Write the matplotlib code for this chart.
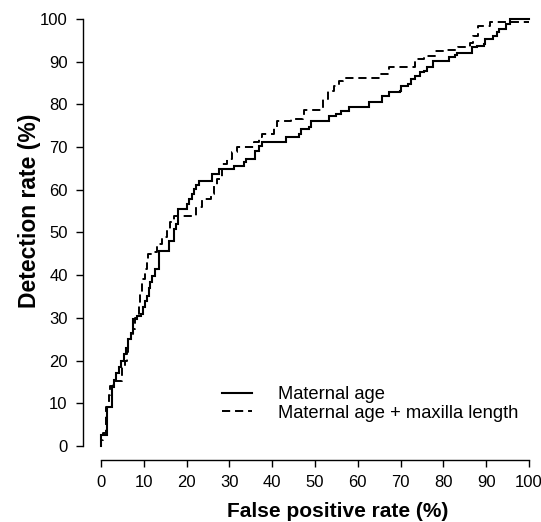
import matplotlib
matplotlib.use("Agg")
import matplotlib.pyplot as plt

plt.rcParams['font.family'] = ['Liberation Sans', 'DejaVu Sans']

# ROC curve: Maternal age (solid), step corners (false positive %, detection %)
fpr_age = [0, 0, 1.3, 2.5, 3.0, 3.5, 4.2, 4.7, 5.3, 5.8, 6.4, 7.0, 7.6, 7.6, 8.5, 9.3,
           9.9, 10.3, 10.7, 11.2, 11.5, 11.9, 12.7, 13.6, 13.6, 15.8, 17.1, 17.6, 17.9,
           18.1, 20.1, 20.5, 21.3, 21.7, 22.3, 22.8, 26.0, 27.5, 31.0, 33.4, 33.8, 36.1,
           36.9, 37.7, 43.2, 46.3, 46.7, 48.7, 49.1, 53.4, 54.9, 56.1, 58.0, 62.6, 65.7,
           67.2, 69.8, 70.2, 71.7, 72.5, 73.3, 74.5, 75.6, 76.1, 77.6, 81.3, 82.7, 83.1,
           86.8, 87.8, 89.4, 89.8, 91.5, 92.5, 92.9, 94.6, 95.6, 100]
dr_age = [0, 2.6, 9.1, 13.8, 15.5, 17.0, 18.5, 20.0, 21.5, 23.0, 25.0, 26.5, 27.4, 29.7,
          30.5, 31.0, 32.5, 34.0, 35.2, 37.0, 38.5, 39.9, 41.5, 42.6, 45.7, 48.1, 50.8,
          52.0, 53.2, 55.5, 56.7, 57.8, 59.0, 60.2, 61.2, 62.1, 63.7, 64.9, 65.6, 66.4,
          67.2, 69.2, 70.2, 71.1, 72.3, 73.1, 74.2, 74.6, 76.2, 77.4, 77.8, 78.5, 79.3,
          80.5, 82.0, 82.8, 83.2, 84.4, 84.8, 86.0, 86.7, 87.5, 87.9, 88.7, 90.2, 91.0,
          91.6, 92.0, 93.4, 93.8, 94.1, 95.3, 96.1, 96.9, 97.7, 98.8, 100, 100]

# ROC curve: Maternal age + maxilla length (dashed)
fpr_max = [0, 0, 0.5, 1.2, 1.8, 2.2, 2.7, 4.8, 5.6, 6.0, 6.4, 7.0, 7.6, 8.0, 8.8, 9.2,
           9.5, 10.3, 10.7, 11.1, 11.9, 13.1, 14.2, 15.4, 16.2, 17.0, 22.3, 23.6, 25.6,
           26.4, 27.2, 28.3, 29.5, 30.7, 31.8, 35.8, 36.9, 37.7, 40.4, 41.2, 44.4, 47.1,
           47.5, 52.0, 53.0, 54.5, 55.7, 56.5, 65.3, 67.4, 73.5, 75.6, 78.0, 80.3, 83.5,
           86.2, 87.0, 88.0, 90.9, 100]
dr_max = [0, 1.5, 3.0, 9.0, 12.0, 14.0, 15.2, 18.5, 19.8, 22.0, 25.0, 25.8, 27.5, 30.0,
          32.9, 36.0, 39.1, 41.5, 43.5, 45.0, 45.4, 47.3, 48.9, 50.8, 52.4, 53.9, 55.9,
          57.8, 59.0, 60.9, 62.5, 66.0, 67.2, 68.8, 70.0, 71.1, 72.3, 73.1, 74.6, 76.2,
          76.5, 77.0, 78.7, 81.3, 83.2, 84.4, 85.6, 86.1, 87.1, 88.7, 90.6, 91.4, 92.6,
          92.8, 93.4, 94.5, 96.1, 98.4, 99.3, 99.3]

series_labels = ["Maternal age", "Maternal age + maxilla length"]
ticks = [0, 10, 20, 30, 40, 50, 60, 70, 80, 90, 100]

W, H = 541, 522
fig = plt.figure(figsize=(W / 100, H / 100), dpi=100)
ax = fig.add_axes([83 / W, (H - 460) / H, 463 / W, 458 / H])

l1, = ax.plot(fpr_age, dr_age, drawstyle='steps-post', color='black', lw=1.5,
              solid_joinstyle='miter')
l2, = ax.plot(fpr_max, dr_max, drawstyle='steps-post', color='black', lw=1.4,
              linestyle=(0, (4.2, 2.5)))

ax.set_xlim(-4.2, 104)
ax.set_ylim(-3.3, 104)
for s in ['top', 'right']:
    ax.spines[s].set_visible(False)
for s in ['left', 'bottom']:
    ax.spines[s].set_bounds(0, 100)
    ax.spines[s].set_linewidth(1.0)
ax.set_xticks(ticks)
ax.set_yticks(ticks)
ax.tick_params(axis='both', length=5, width=1.0, labelsize=12, pad=6)
ax.set_xlabel("False positive rate (%)", fontsize=15, fontweight='bold')
ax.set_ylabel("Detection rate (%)", fontsize=16.5, fontweight='bold')
ax.xaxis.set_label_coords(0.551, -0.0917)
ax.yaxis.set_label_coords(-0.0905, 0.5437)

leg = ax.legend([l1, l2], series_labels, frameon=False, fontsize=13.2,
                handlelength=1.65, handletextpad=1.4, labelspacing=0.1,
                loc='upper left', bbox_to_anchor=(222 / W, (H - 386) / H),
                bbox_transform=fig.transFigure, borderaxespad=0, borderpad=0)

fig.savefig("out.png", dpi=100)
